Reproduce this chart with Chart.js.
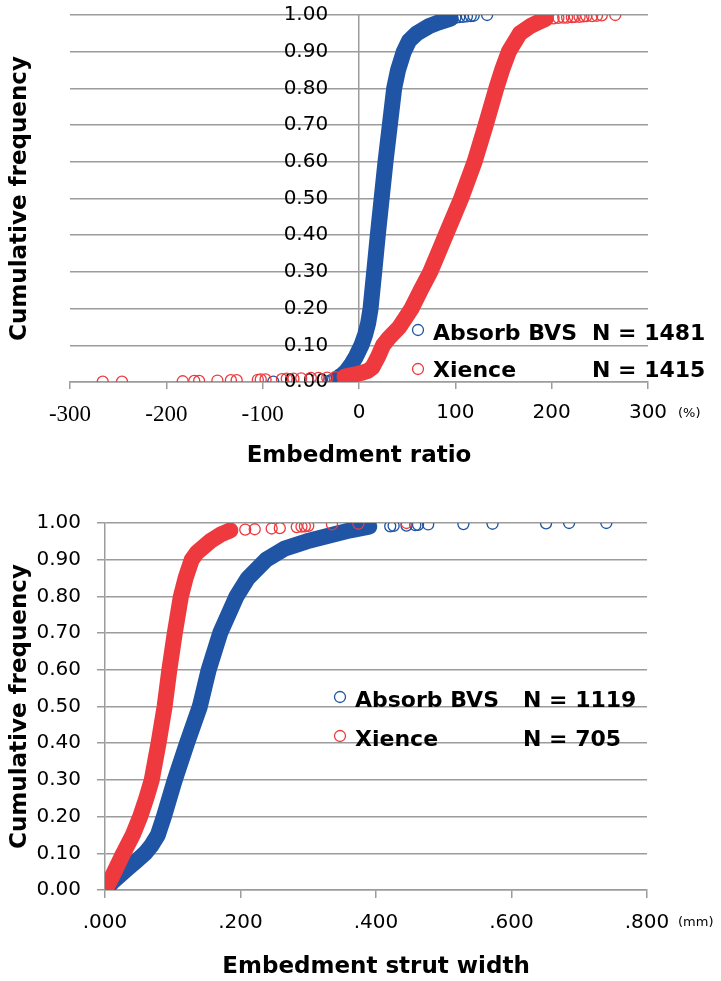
<!DOCTYPE html>
<html>
<head>
<meta charset="utf-8">
<script src="https://cdn.jsdelivr.net/npm/chart.js@4.4.1/dist/chart.umd.min.js"></script>
<style>
  html, body { margin: 0; padding: 0; background: #fff; }
  #wrap { position: relative; width: 721px; height: 981px; }
  #ratio-chart { position: absolute; left: 0; top: 0; }
  #strut-chart { position: absolute; left: 0; top: 490px; }
</style>
</head>
<body>
<div id="wrap">
  <canvas id="ratio-chart" width="721" height="490"></canvas>
  <canvas id="strut-chart" width="721" height="491"></canvas>
</div>
<script>
// ── Data ───────────────────────────────────────────────────────────────────
const seriesNames = ["Absorb BVS", "Xience"];
const ratioN      = [1481, 1415];
const strutN      = [1119, 705];

const freqTicks       = [0, 0.1, 0.2, 0.3, 0.4, 0.5, 0.6, 0.7, 0.8, 0.9, 1.0];
const ratioXTicks     = [-300, -200, -100, 0, 100, 200, 300];
const strutXTicks     = [0, 0.2, 0.4, 0.6, 0.8];

// Embedment ratio (%) — dense part of each curve
const absorbRatioFreq = [0.015, 0.02, 0.03, 0.05, 0.07, 0.10, 0.13, 0.16, 0.20, 0.30, 0.40, 0.50, 0.60, 0.70, 0.80, 0.85, 0.90, 0.93, 0.95, 0.97, 0.98, 0.99];
const absorbRatioX    = [-20, -17, -13, -7.5, -3, 2.5, 6.5, 9.5, 12, 15.8, 19.5, 23.5, 27.5, 32, 36.5, 40.5, 46.5, 52, 60, 73, 83, 95];
const xienceRatioFreq = [0.015, 0.02, 0.025, 0.03, 0.04, 0.05, 0.07, 0.10, 0.12, 0.15, 0.20, 0.25, 0.30, 0.35, 0.40, 0.45, 0.50, 0.60, 0.70, 0.80, 0.85, 0.90, 0.95, 0.97, 0.98, 0.99];
const xienceRatioX    = [-15, -5, 3, 9, 14, 16, 20, 25, 31, 42, 54.5, 64, 74, 82, 90, 98, 106, 120, 131.5, 142.5, 148.5, 155.5, 167, 178, 186, 194];

// Embedment ratio (%) — scattered single points in the tails
const absorbRatioTailX    = [-89, -31, -29, -27, -25, -23, 100, 104, 108, 112, 116, 119, 133];
const absorbRatioTailFreq = [0.001, 0.003, 0.005, 0.007, 0.009, 0.012, 0.992, 0.994, 0.995, 0.996, 0.997, 0.998, 1.0];
const xienceRatioTailX    = [-266, -246, -183, -171, -166, -147, -133, -127, -105, -102, -97, -80, -75, -68, -60, -50, -42, -33, -25,
                             202, 207, 212, 216, 221, 224, 229, 233, 236, 242, 247, 252, 266];
const xienceRatioTailFreq = [0.001, 0.001, 0.002, 0.003, 0.003, 0.004, 0.005, 0.005, 0.006, 0.007, 0.007, 0.008, 0.009, 0.009, 0.010, 0.011, 0.011, 0.012, 0.013,
                             0.991, 0.992, 0.993, 0.993, 0.994, 0.995, 0.995, 0.996, 0.997, 0.997, 0.998, 0.999, 1.0];

// Embedment strut width (mm) — dense part of each curve
const absorbStrutFreq = [0.003, 0.02, 0.04, 0.06, 0.08, 0.10, 0.12, 0.15, 0.20, 0.30, 0.40, 0.50, 0.60, 0.70, 0.80, 0.85, 0.90, 0.93, 0.95, 0.97, 0.98, 0.99];
const absorbStrutX    = [0.002, 0.010, 0.022, 0.034, 0.047, 0.059, 0.068, 0.078, 0.087, 0.103, 0.121, 0.140, 0.153, 0.170, 0.194, 0.211, 0.238, 0.265, 0.298, 0.340, 0.362, 0.390];
const xienceStrutFreq = [0.003, 0.02, 0.05, 0.10, 0.15, 0.20, 0.25, 0.30, 0.40, 0.50, 0.60, 0.70, 0.80, 0.85, 0.90, 0.92, 0.95, 0.97, 0.98];
const xienceStrutX    = [0.001, 0.006, 0.014, 0.027, 0.041, 0.052, 0.061, 0.069, 0.079, 0.088, 0.095, 0.103, 0.112, 0.119, 0.128, 0.136, 0.155, 0.172, 0.185];

// Embedment strut width (mm) — scattered single points in the upper tail
const absorbStrutTailX    = [0.421, 0.426, 0.445, 0.458, 0.462, 0.477, 0.529, 0.572, 0.651, 0.685, 0.740];
const absorbStrutTailFreq = [0.991, 0.992, 0.993, 0.994, 0.995, 0.996, 0.997, 0.998, 0.999, 1.0, 1.0];
const xienceStrutTailX    = [0.207, 0.221, 0.246, 0.258, 0.283, 0.290, 0.295, 0.300, 0.335, 0.374, 0.445];
const xienceStrutTailFreq = [0.982, 0.983, 0.985, 0.986, 0.989, 0.990, 0.991, 0.992, 0.996, 0.998, 1.0];

// ── Styles ─────────────────────────────────────────────────────────────────
const BLUE  = "#1f55a4";
const RED   = "#ee3a3f";
const GRID  = "#9c9c9c";
const SANS  = "'DejaVu Sans', sans-serif";
const SERIF = "'Liberation Serif', serif";

Chart.defaults.color = "#000";
Chart.defaults.font.family = SANS;

// ── Helpers ────────────────────────────────────────────────────────────────
function pts(xs, ys) {
  return xs.map((x, i) => ({ x, y: ys[i] }));
}

function bodySet(label, xs, ys, color, order) {
  return {
    label,
    data:             pts(xs, ys),
    showLine:         true,
    borderColor:      color,
    backgroundColor:  color,
    borderWidth:      16,
    borderCapStyle:   "round",
    borderJoinStyle:  "round",
    pointRadius:      0,
    pointHoverRadius: 0,
    order,
  };
}

function tailSet(label, xs, ys, color, order) {
  return {
    label,
    data:                 pts(xs, ys),
    showLine:             false,
    pointRadius:          5.5,
    pointBorderWidth:     1.3,
    pointBorderColor:     color,
    pointBackgroundColor: "rgba(0,0,0,0)",
    order,
  };
}

function fixedTicks(values) {
  return (scale) => { scale.ticks = values.map((v) => ({ value: v })); };
}

const titleFont = { family: SANS, size: 23, weight: "bold" };
const tickFont  = { family: SANS, size: 20, weight: "normal" };
const negFont   = { family: SERIF, size: 23, weight: "normal" };

// ── Legend + unit label plugin ─────────────────────────────────────────────
const cdfLegend = {
  id: "cdfLegend",
  afterDraw(chart, args, opts) {
    const ctx = chart.ctx;
    ctx.save();
    opts.rows.forEach((row, i) => {
      ctx.beginPath();
      ctx.arc(opts.markerX, row.markerY, 5.5, 0, Math.PI * 2);
      ctx.strokeStyle = [BLUE, RED][i];
      ctx.lineWidth = 1.3;
      ctx.stroke();
      ctx.fillStyle = "#000";
      ctx.font = `bold 22px ${SANS}`;
      ctx.textAlign = "left";
      ctx.textBaseline = "alphabetic";
      ctx.fillText(seriesNames[i], opts.textX, row.baseline);
      ctx.fillText(`N = ${opts.counts[i]}`, opts.nX, row.baseline);
    });
    ctx.font = `13px ${SANS}`;
    ctx.textBaseline = "middle";
    ctx.fillText(opts.unit, opts.unitX, opts.unitY);
    ctx.restore();
  },
};

// ── Embedment ratio chart ──────────────────────────────────────────────────
new Chart(document.getElementById("ratio-chart"), {
  type: "scatter",
  data: {
    datasets: [
      bodySet(seriesNames[0], absorbRatioX, absorbRatioFreq, BLUE, 2),
      tailSet(seriesNames[0], absorbRatioTailX, absorbRatioTailFreq, BLUE, 2),
      bodySet(seriesNames[1], xienceRatioX, xienceRatioFreq, RED, 1),
      tailSet(seriesNames[1], xienceRatioTailX, xienceRatioTailFreq, RED, 1),
    ],
  },
  options: {
    responsive: false,
    animation: false,
    layout: { padding: { left: 0, right: 73, top: 15, bottom: 0 } },
    plugins: {
      legend:  { display: false },
      tooltip: { enabled: false },
      cdfLegend: {
        markerX: 418, textX: 433, nX: 592, counts: ratioN,
        rows: [{ markerY: 330, baseline: 340 }, { markerY: 369, baseline: 377 }],
        unit: "(%)", unitX: 678, unitY: 414,
      },
    },
    scales: {
      x: {
        type: "linear", min: -300, max: 300,
        afterBuildTicks: fixedTicks(ratioXTicks),
        afterFit: (s) => { s.height = 108; },
        grid: {
          color: (c) => (c.tick && c.tick.value === 0 ? GRID : "rgba(0,0,0,0)"),
          tickColor: GRID, tickLength: 7, lineWidth: 1.5,
        },
        border: { color: GRID, width: 1.5 },
        ticks: {
          padding: 12, maxRotation: 0, autoSkip: false,
          // negative labels are set in a serif face, as in the source figure
          font: ratioXTicks.map((v) => (v < 0 ? negFont : tickFont)),
        },
        title: { display: true, text: "Embedment ratio", font: titleFont, padding: { top: 0, bottom: 20 } },
      },
      y: {
        type: "linear", min: 0, max: 1, position: { x: -32 },
        afterBuildTicks: fixedTicks(freqTicks),
        grid: { color: GRID, lineWidth: 1.5, drawTicks: false },
        border: { display: false },
        ticks: { padding: 0, font: tickFont, callback: (v) => v.toFixed(2) },
      },
      yTitle: {
        type: "linear", axis: "y", position: "left", min: 0, max: 1,
        afterFit: (s) => { s.width = 70; },
        grid: { display: false },
        border: { display: false },
        ticks: { display: false },
        title: { display: true, text: "Cumulative frequency", font: titleFont, padding: { top: 6, bottom: 0 } },
      },
    },
  },
  plugins: [cdfLegend],
});

// ── Embedment strut width chart ────────────────────────────────────────────
new Chart(document.getElementById("strut-chart"), {
  type: "scatter",
  data: {
    datasets: [
      bodySet(seriesNames[0], absorbStrutX, absorbStrutFreq, BLUE, 2),
      tailSet(seriesNames[0], absorbStrutTailX, absorbStrutTailFreq, BLUE, 2),
      bodySet(seriesNames[1], xienceStrutX, xienceStrutFreq, RED, 1),
      tailSet(seriesNames[1], xienceStrutTailX, xienceStrutTailFreq, RED, 1),
    ],
  },
  options: {
    responsive: false,
    animation: false,
    layout: { padding: { left: 0, right: 74, top: 33, bottom: 0 } },
    plugins: {
      legend:  { display: false },
      tooltip: { enabled: false },
      cdfLegend: {
        markerX: 340, textX: 355, nX: 523, counts: strutN,
        rows: [{ markerY: 207, baseline: 217 }, { markerY: 246, baseline: 256 }],
        unit: "(mm)", unitX: 678, unitY: 433,
      },
    },
    scales: {
      x: {
        type: "linear", min: 0, max: 0.8,
        afterBuildTicks: fixedTicks(strutXTicks),
        afterFit: (s) => { s.height = 91; },
        grid: { drawOnChartArea: false, color: GRID, tickColor: GRID, tickLength: 8, lineWidth: 1.5 },
        border: { color: GRID, width: 1.5 },
        ticks: {
          padding: 13, maxRotation: 0, autoSkip: false, font: tickFont,
          callback: (v) => v.toFixed(3).replace(/^0/, ""),
        },
        title: { display: true, text: "Embedment strut width", font: titleFont, padding: { top: 0, bottom: 0 } },
      },
      y: {
        type: "linear", min: 0, max: 1, position: "left",
        afterBuildTicks: fixedTicks(freqTicks),
        afterFit: (s) => { s.width = 105; },
        grid: { color: GRID, lineWidth: 1.5, tickLength: 8 },
        border: { color: GRID, width: 1.5 },
        ticks: { padding: 16, font: tickFont, callback: (v) => v.toFixed(2) },
        title: { display: true, text: "Cumulative frequency", font: titleFont, padding: { top: 6, bottom: 0 } },
      },
    },
  },
  plugins: [cdfLegend],
});
</script>
</body>
</html>
